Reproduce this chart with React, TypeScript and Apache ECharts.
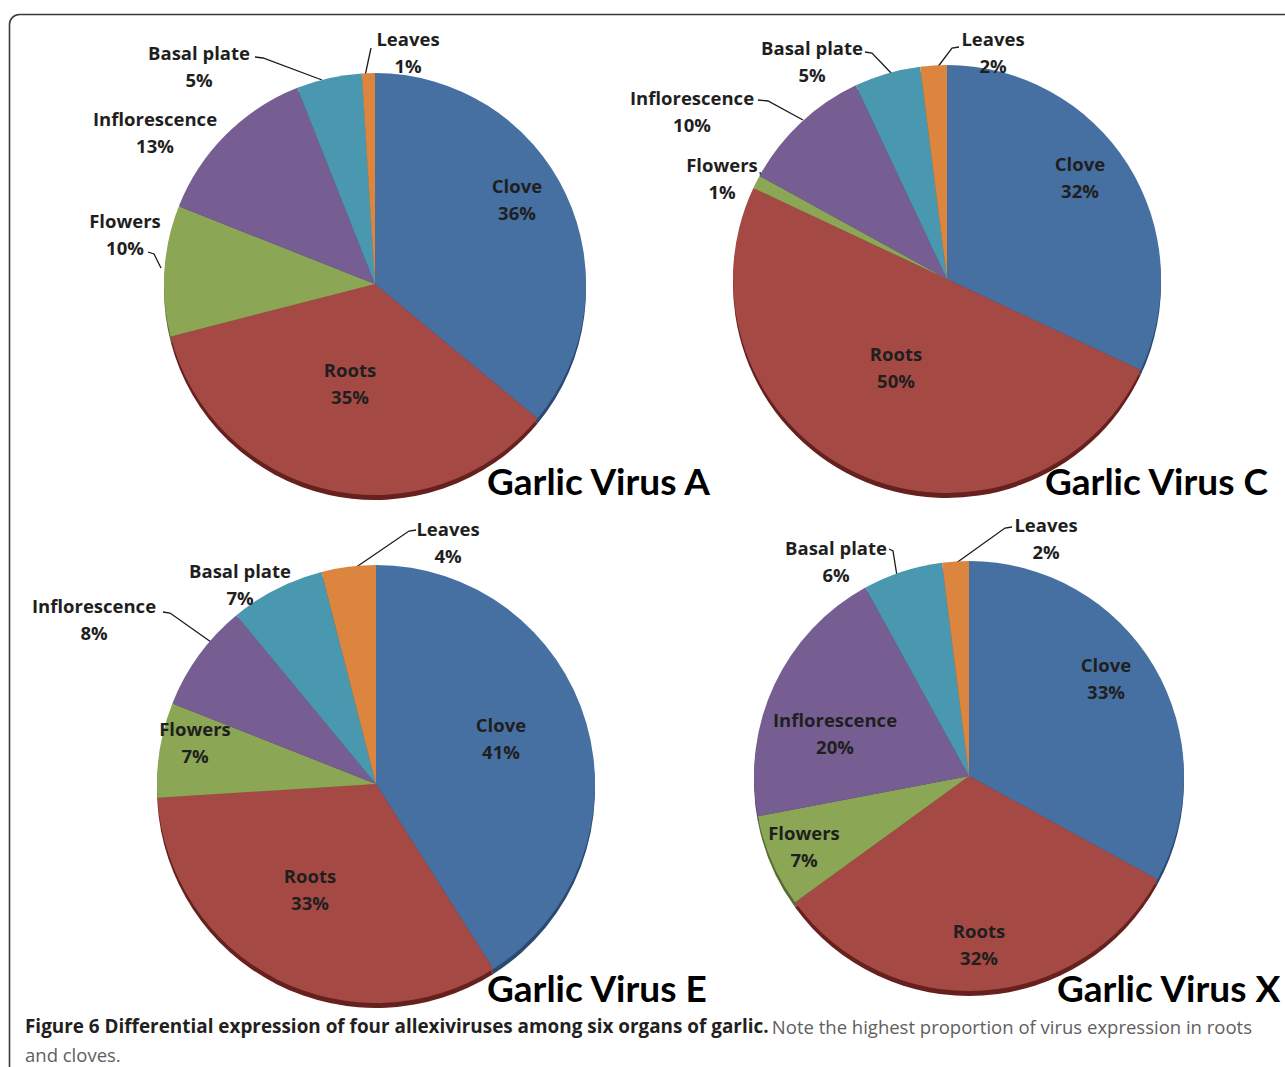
import React, { useEffect, useRef } from "react";
import * as echarts from "echarts";

// ---------- data ----------
const organs = ["Clove", "Roots", "Flowers", "Inflorescence", "Basal plate", "Leaves"];
const virusA = [36, 35, 10, 13, 5, 1];
const virusC = [32, 50, 1, 10, 5, 2];
const virusE = [41, 33, 7, 8, 7, 4];
const virusX = [33, 32, 7, 20, 6, 2];
const panelTitles = ["Garlic Virus A", "Garlic Virus C", "Garlic Virus E", "Garlic Virus X"];
const captionBold = "Figure 6 Differential expression of four allexiviruses among six organs of garlic.";
const captionRest1 = "Note the highest proportion of virus expression in roots";
const captionRest2 = "and cloves.";

// ---------- styles / layout ----------
const sliceColors = ["#4770A2", "#A54944", "#8BA654", "#765E93", "#4A98AF", "#DB853E"];
const edgeColors = ["#2C4A70", "#66211E", "#586C31", "#4A3A5E", "#2D6474", "#8C5020"];
const pieCenters = [
  [375, 284],
  [947, 279],
  [376, 784],
  [969, 776],
];
const pieRadii = [211, 214, 219, 215];
const labelPos = [
  [[517, 199], [350, 383], [125, 234], [155, 132], [199, 66], [408, 52]],
  [[1080, 177], [896, 367], [722, 178], [692, 111], [812, 61], [993, 52]],
  [[501, 738], [310, 889], [195, 742], [94, 619], [240, 584], [448, 542]],
  [[1106, 678], [979, 944], [804, 846], [835, 733], [836, 561], [1046, 538]],
];
const leaderLines: (number[][] | null)[][] = [
  [null, null, [[148, 252], [154, 254], [161, 268]], null, [[255, 57], [263, 58], [322, 80]], [[371, 48], [365, 76]]],
  [null, null, [[760, 172], [762, 183]], [[758, 100], [768, 101], [803, 120]], [[865, 52], [872, 53], [892, 74]], [[959, 47], [952, 48], [937, 68]]],
  [null, null, null, [[163, 612], [170, 613], [211, 642]], null, [[416, 530], [409, 531], [352, 570]]],
  [null, null, null, null, [[889, 549], [893, 551], [897, 576]], [[1012, 527], [1005, 528], [952, 566]]],
];
const titlePos = [
  [487, 480],
  [1045, 480],
  [487, 987],
  [1057, 987],
];

const LABEL_FONT = "'Open Sans', Lato, sans-serif";
const TITLE_FONT = "Lato, 'Open Sans', sans-serif";
const CAPTION_FONT = "'Open Sans', sans-serif";

export default function App() {
  const ref = useRef<HTMLDivElement>(null);

  useEffect(() => {
    if (!ref.current) return;
    const chart = echarts.init(ref.current, null, { renderer: "svg" });
    const allValues = [virusA, virusC, virusE, virusX];

    const series: any[] = [];
    allValues.forEach((vals, p) => {
      // 3D-like dark bottom edge
      series.push({
        type: "pie",
        silent: true,
        z: 1,
        center: [pieCenters[p][0], pieCenters[p][1] + 5],
        radius: pieRadii[p],
        startAngle: 90,
        clockwise: true,
        label: { show: false },
        labelLine: { show: false },
        data: vals.map((v, i) => ({ value: v, name: organs[i], itemStyle: { color: edgeColors[i] } })),
      });
      series.push({
        type: "pie",
        z: 2,
        center: pieCenters[p],
        radius: pieRadii[p],
        startAngle: 90,
        clockwise: true,
        avoidLabelOverlap: false,
        itemStyle: { borderWidth: 0 },
        label: {
          show: true,
          position: "outside",
          formatter: (prm: any) => `${prm.name}\n${prm.value}%`,
          fontFamily: LABEL_FONT,
          fontWeight: "bold",
          fontSize: 18.5,
          lineHeight: 27,
          color: "#1f1f1f",
          align: "center",
        },
        labelLine: { show: true, smooth: false, lineStyle: { color: "#1a1a1a", width: 1.3 } },
        labelLayout: (prm: any) => {
          const pos = labelPos[p][prm.dataIndex];
          const ln = leaderLines[p][prm.dataIndex];
          const res: any = { x: pos[0], y: pos[1], align: "center", verticalAlign: "middle" };
          if (ln) res.labelLinePoints = ln;
          return res;
        },
        data: vals.map((v, i) => ({
          value: v,
          name: organs[i],
          itemStyle: { color: sliceColors[i] },
          labelLine: { show: leaderLines[p][i] != null },
        })),
      });
    });

    const graphic: any[] = [
      {
        type: "rect",
        silent: true,
        shape: { x: 9.5, y: 14.5, width: 1400, height: 1200, r: 10 },
        style: { fill: "none", stroke: "#3a3a3a", lineWidth: 1.6 },
        z: 0,
      },
    ];
    panelTitles.forEach((t, i) => {
      graphic.push({
        type: "text",
        x: titlePos[i][0],
        y: titlePos[i][1],
        z: 10,
        style: {
          text: t,
          fontFamily: TITLE_FONT,
          fontWeight: "bold",
          fontSize: 37,
          fill: "#000000",
          textAlign: "left",
          textVerticalAlign: "middle",
        },
      });
    });
    graphic.push({
      type: "text",
      x: 25,
      y: 1012,
      z: 10,
      style: {
        text: `{b|${captionBold}} {r|${captionRest1}}\n{r|${captionRest2}}`,
        textAlign: "left",
        textVerticalAlign: "top",
        rich: {
          b: { fontFamily: CAPTION_FONT, fontWeight: "bold", fontSize: 18.9, fill: "#231f20", lineHeight: 28 },
          r: { fontFamily: CAPTION_FONT, fontWeight: "normal", fontSize: 18.5, fill: "#606060", lineHeight: 28 },
        },
      },
    });

    chart.setOption({
      animation: false,
      backgroundColor: "#ffffff",
      series,
      graphic,
    });
    return () => chart.dispose();
  }, []);

  return (
    <div
      ref={ref}
      style={{ position: "fixed", left: 0, top: 0, width: 1285, height: 1067 }}
    />
  );
}
